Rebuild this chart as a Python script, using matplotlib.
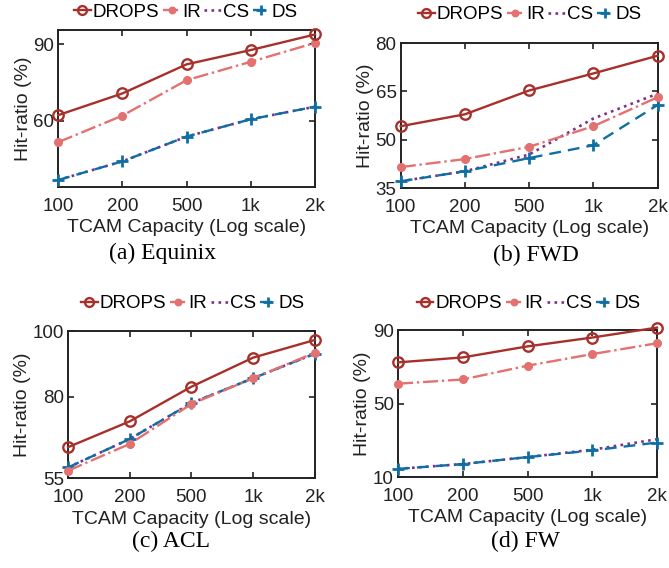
import numpy as np
import matplotlib
matplotlib.use("Agg")
import matplotlib.pyplot as plt

# x categories (equally spaced on the log-scale axis)
CAPACITY = ["100", "200", "500", "1k", "2k"]

# (a) Equinix
EQ_DROPS = [62.3, 70.8, 82.2, 87.8, 93.9]
EQ_IR    = [51.7, 62.1, 76.0, 83.2, 90.6]
EQ_CS    = [36.9, 44.2, 53.9, 60.7, 65.6]
EQ_DS    = [36.9, 44.2, 53.9, 60.7, 65.6]

# (b) FWD
FWD_DROPS = [54.2, 57.9, 65.3, 70.6, 76.1]
FWD_IR    = [41.5, 44.0, 47.8, 54.2, 63.2]
FWD_CS    = [37.1, 40.2, 45.4, 56.6, 64.3]
FWD_DS    = [37.1, 40.2, 44.3, 48.3, 60.8]

# (c) ACL
ACL_DROPS = [64.5, 72.4, 83.0, 91.9, 97.3]
ACL_IR    = [57.3, 65.5, 77.7, 85.6, 93.4]
ACL_CS    = [58.3, 67.0, 78.0, 85.6, 93.1]
ACL_DS    = [58.3, 67.0, 78.0, 85.6, 93.1]

# (d) FW
FW_DROPS = [72.4, 75.1, 81.1, 85.9, 91.3]
FW_IR    = [60.8, 63.1, 70.6, 76.9, 82.8]
FW_CS    = [14.5, 17.1, 20.9, 24.9, 30.6]
FW_DS    = [14.5, 17.1, 20.9, 24.5, 28.8]

RED    = "#A8302B"
SALMON = "#E27170"
PURPLE = "#7E2F8E"
BLUE   = "#0F6FA3"
INK    = "#222222"

plt.rcParams.update({
    "font.family": "Liberation Sans",
    "xtick.direction": "in", "ytick.direction": "in",
    "xtick.top": True, "ytick.right": True,
    "axes.linewidth": 1.4,
})

panels = [
    # rect, data, ylim, yticks, caption, caption pos, legend centre
    ([0.087, 0.671, 0.384, 0.276], (EQ_DROPS, EQ_IR, EQ_CS, EQ_DS),
     (34.2, 95.6), [60, 90], "(a) Equinix", (0.243, 0.553), (0.278, 0.978)),
    ([0.599, 0.669, 0.384, 0.255], (FWD_DROPS, FWD_IR, FWD_CS, FWD_DS),
     (35, 80), [35, 50, 65, 80], "(b) FWD", (0.801, 0.551), (0.792, 0.974)),
    ([0.1016, 0.158, 0.369, 0.259], (ACL_DROPS, ACL_IR, ACL_CS, ACL_DS),
     (55, 100), [55, 80, 100], "(c) ACL", (0.255, 0.047), (0.288, 0.465)),
    ([0.595, 0.160, 0.387, 0.259], (FW_DROPS, FW_IR, FW_CS, FW_DS),
     (10, 90), [10, 50, 90], "(d) FW", (0.786, 0.047), (0.790, 0.465)),
]

fig = plt.figure(figsize=(6.69, 5.68), dpi=100)
x = np.arange(len(CAPACITY))

for rect, (drops, ir, cs, ds), ylim, yticks, caption, cpos, lpos in panels:
    ax = fig.add_axes(rect)
    ax.plot(x, drops, "-", color=RED, lw=1.7, marker="o", ms=7.5,
            mfc="none", mew=1.7, label="DROPS", clip_on=False, zorder=5)
    ax.plot(x, ir, "-.", color=SALMON, lw=1.7, marker="o", ms=5.5,
            mfc=SALMON, mec=SALMON, label="IR", clip_on=False, zorder=4)
    ax.plot(x, cs, ":", color=PURPLE, lw=1.9, label="CS", clip_on=False,
            zorder=3)
    ax.plot(x, ds, "--", color=BLUE, lw=1.7, marker="+", ms=8, mew=2,
            label="DS", clip_on=False, zorder=3, dashes=(5, 3))
    ax.set_xlim(0, 4)
    ax.set_ylim(*ylim)
    ax.set_xticks(x)
    ax.set_xticklabels(CAPACITY)
    ax.set_yticks(yticks)
    ax.tick_params(labelsize=13.5, length=4, width=1.2, colors=INK)
    ax.tick_params(axis="x", pad=8)
    ax.tick_params(axis="y", pad=3)
    ax.set_xlabel("TCAM Capacity (Log scale)", fontsize=14, labelpad=3,
                  color=INK)
    ax.set_ylabel("Hit-ratio (%)", fontsize=14, labelpad=1, color=INK)
    for s in ax.spines.values():
        s.set_color(INK)
    fig.legend(handles=ax.get_lines(), loc="center", bbox_to_anchor=lpos,
               ncol=4, frameon=False, fontsize=13.5, handlelength=0.9,
               handletextpad=0.1, columnspacing=0.2, borderpad=0,
               borderaxespad=0, markerscale=0.85)
    fig.text(cpos[0], cpos[1], caption, ha="center", va="center",
             fontsize=17, family="Liberation Serif")

fig.savefig("out.png", dpi=100)
